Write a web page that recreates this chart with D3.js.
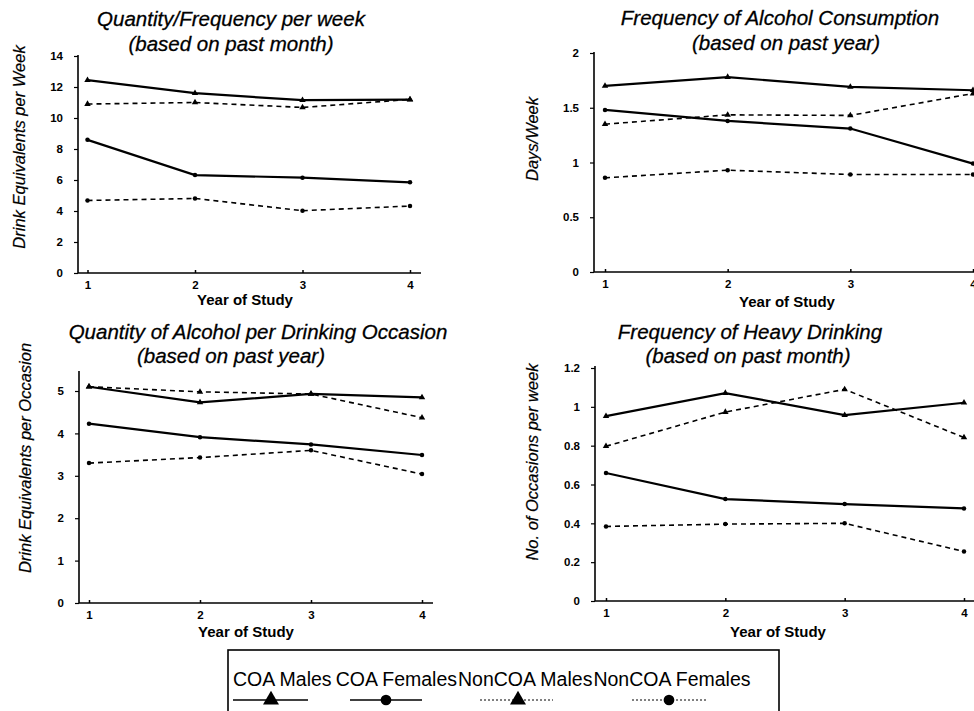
<!DOCTYPE html>
<html><head><meta charset="utf-8">
<script src="https://cdn.jsdelivr.net/npm/d3@7"></script>
<style>
html,body{margin:0;padding:0;background:#fff;}
svg{display:block;}
text{font-family:"Liberation Sans",Arial,Helvetica,sans-serif;fill:#000;}
</style></head>
<body><svg id="chart" width="974" height="711"></svg>
<script>
// ---- data ----
const years = [1, 2, 3, 4];
const seriesNames = ["COA Males", "COA Females", "NonCOA Males", "NonCOA Females"];

// Panel A: Quantity/Frequency per week
const qfCOAMales      = [12.44, 11.6, 11.15, 11.18];
const qfCOAFemales    = [8.59, 6.32, 6.15, 5.85];
const qfNonCOAMales   = [10.9, 11.0, 10.68, 11.2];
const qfNonCOAFemales = [4.68, 4.81, 4.02, 4.32];
const qfTicks = [0, 2, 4, 6, 8, 10, 12, 14];

// Panel B: Frequency of Alcohol Consumption
const freqCOAMales      = [1.70, 1.78, 1.69, 1.66];
const freqCOAFemales    = [1.48, 1.38, 1.31, 0.99];
const freqNonCOAMales   = [1.35, 1.435, 1.43, 1.63];
const freqNonCOAFemales = [0.86, 0.93, 0.89, 0.89];
const freqTicks = [0, 0.5, 1, 1.5, 2];

// Panel C: Quantity of Alcohol per Drinking Occasion
const qtyCOAMales      = [5.10, 4.73, 4.93, 4.85];
const qtyCOAFemales    = [4.23, 3.91, 3.74, 3.49];
const qtyNonCOAMales   = [5.10, 4.98, 4.93, 4.37];
const qtyNonCOAFemales = [3.30, 3.43, 3.60, 3.04];
const qtyTicks = [0, 1, 2, 3, 4, 5];

// Panel D: Frequency of Heavy Drinking
const heavyCOAMales      = [0.952, 1.071, 0.957, 1.021];
const heavyCOAFemales    = [0.659, 0.525, 0.499, 0.477];
const heavyNonCOAMales   = [0.797, 0.973, 1.09, 0.842];
const heavyNonCOAFemales = [0.384, 0.396, 0.40, 0.255];
const heavyTicks = [0, 0.2, 0.4, 0.6, 0.8, 1, 1.2];

const xTitle = "Year of Study";

// ---- layout / styles ----
const seriesStyle = [
  {dash: null, marker: "triangle"},
  {dash: null, marker: "circle"},
  {dash: "5,4", marker: "triangle"},
  {dash: "5,4", marker: "circle"}
];

const panels = [
  { title: ["Quantity/Frequency per week", "(based on past month)"], titleX: [231, 231], titleY: [26, 51],
    yTitle: "Drink Equivalents per Week", yTitlePos: [19, 147],
    series: [qfCOAMales, qfCOAFemales, qfNonCOAMales, qfNonCOAFemales], ticks: qfTicks, yMax: 14,
    xr: [87.5, 410], yr: [273, 56], axX: 78, axXmax: 421, axYtop: 55, xTitlePos: [245, 305] },
  { title: ["Frequency of Alcohol Consumption", "(based on past year)"], titleX: [780, 786], titleY: [25, 50],
    yTitle: "Days/Week", yTitlePos: [532, 139],
    series: [freqCOAMales, freqCOAFemales, freqNonCOAMales, freqNonCOAFemales], ticks: freqTicks, yMax: 2,
    xr: [605, 973], yr: [272, 53], axX: 594, axXmax: 990, axYtop: 52, xTitlePos: [787, 307] },
  { title: ["Quantity of Alcohol per Drinking Occasion", "(based on past year)"], titleX: [258, 231], titleY: [339, 363],
    yTitle: "Drink Equivalents per Occasion", yTitlePos: [25, 458],
    series: [qtyCOAMales, qtyCOAFemales, qtyNonCOAMales, qtyNonCOAFemales], ticks: qtyTicks, yMax: 5,
    xr: [89, 422], yr: [603, 391], axX: 79, axXmax: 433, axYtop: 371, xTitlePos: [246, 637] },
  { title: ["Frequency of Heavy Drinking", "(based on past month)"], titleX: [750, 748], titleY: [339, 363],
    yTitle: "No. of Occasions per week", yTitlePos: [532, 462],
    series: [heavyCOAMales, heavyCOAFemales, heavyNonCOAMales, heavyNonCOAFemales], ticks: heavyTicks, yMax: 1.2,
    xr: [606, 964], yr: [601, 368], axX: 595, axXmax: 990, axYtop: 366, xTitlePos: [778, 637] }
];

const svg = d3.select("#chart");
svg.append("rect").attr("width", 974).attr("height", 711).attr("fill", "#fff");

function drawMarker(g, type, cx, cy, s) {
  if (type === "triangle") {
    g.append("path").attr("d", d3.symbol().type(d3.symbolTriangle).size(s)())
      .attr("transform", `translate(${cx},${cy})`).attr("fill", "#000");
  } else {
    g.append("circle").attr("cx", cx).attr("cy", cy).attr("r", Math.sqrt(s / Math.PI)).attr("fill", "#000");
  }
}

panels.forEach(p => {
  const g = svg.append("g");
  const x = d3.scaleLinear().domain([1, 4]).range(p.xr);
  const y = d3.scaleLinear().domain([0, p.yMax]).range(p.yr);

  // titles
  p.title.forEach((t, i) => {
    g.append("text").attr("x", p.titleX[i]).attr("y", p.titleY[i]).attr("text-anchor", "middle")
      .attr("font-size", 20.5).attr("font-style", "italic")
      .attr("stroke", "#000").attr("stroke-width", 0.3).text(t);
  });

  // y axis
  const ya = d3.axisLeft(y).tickValues(p.ticks).tickSize(4).tickPadding(11)
    .tickFormat(d => d3.format("~g")(d));
  const yg = g.append("g").attr("transform", `translate(${p.axX},0)`).call(ya);
  yg.select(".domain").remove();
  yg.selectAll("line").attr("stroke", "#000").attr("stroke-width", 1.2);
  yg.selectAll("text").attr("font-size", 11.5).attr("font-weight", "bold")
    .attr("font-family", "'Liberation Sans', Arial, sans-serif");

  // x axis
  const xa = d3.axisBottom(x).tickValues(years).tickSize(-3).tickPadding(8).tickFormat(d3.format("d"));
  const xg = g.append("g").attr("transform", `translate(0,${y(0)})`).call(xa);
  xg.select(".domain").remove();
  xg.selectAll("line").attr("stroke", "#000").attr("stroke-width", 1.5);
  xg.selectAll("text").attr("font-size", 11.5).attr("font-weight", "bold")
    .attr("font-family", "'Liberation Sans', Arial, sans-serif");

  // axis lines
  g.append("line").attr("x1", p.axX).attr("x2", p.axX).attr("y1", y(0)).attr("y2", p.axYtop)
    .attr("stroke", "#000").attr("stroke-width", 1.6);
  g.append("line").attr("x1", p.axX).attr("x2", p.axXmax).attr("y1", y(0)).attr("y2", y(0))
    .attr("stroke", "#000").attr("stroke-width", 1.6);

  // axis titles
  g.append("text").attr("x", p.xTitlePos[0]).attr("y", p.xTitlePos[1]).attr("text-anchor", "middle")
    .attr("font-size", 15).attr("font-weight", "bold").text(xTitle);
  g.append("text").attr("transform", `translate(${p.yTitlePos[0]},${p.yTitlePos[1]}) rotate(-90)`)
    .attr("text-anchor", "middle").attr("dominant-baseline", "central")
    .attr("font-size", 16.5).attr("font-style", "italic")
    .attr("stroke", "#000").attr("stroke-width", 0.2).text(p.yTitle);

  // series
  const line = d3.line().x((d, i) => x(years[i])).y(d => y(d));
  p.series.forEach((vals, si) => {
    const st = seriesStyle[si];
    g.append("path").attr("d", line(vals)).attr("fill", "none").attr("stroke", "#000")
      .attr("stroke-width", st.dash ? 1.6 : 2.2)
      .attr("stroke-dasharray", st.dash);
    vals.forEach((v, i) => drawMarker(g, st.marker, x(years[i]), y(v), st.marker === "triangle" ? 18 : 16));
  });
});

// ---- legend ----
const lg = svg.append("g");
lg.append("rect").attr("x", 228).attr("y", 650).attr("width", 551).attr("height", 70)
  .attr("fill", "none").attr("stroke", "#000").attr("stroke-width", 1.6);
const legendGaps = [0, 4, 1, 1];
const legendSym = [[233, 308], [350, 422], [480, 553], [632, 707]];
const legendMarkX = [271, 386, 518, 669];
let lx = 233;
seriesNames.forEach((n, i) => {
  lx += legendGaps[i];
  const t = lg.append("text").attr("x", lx).attr("y", 686).attr("font-size", 19.5).text(n);
  lx += t.node().getComputedTextLength();
  const st = seriesStyle[i];
  lg.append("line").attr("x1", legendSym[i][0]).attr("x2", legendSym[i][1]).attr("y1", 700).attr("y2", 700)
    .attr("stroke", "#000").attr("stroke-width", st.dash ? 1 : 1.5)
    .attr("stroke-dasharray", st.dash ? "2,2" : null);
  drawMarker(lg, st.marker, legendMarkX[i], 700, st.marker === "triangle" ? 110 : 90);
});
</script></body></html>
